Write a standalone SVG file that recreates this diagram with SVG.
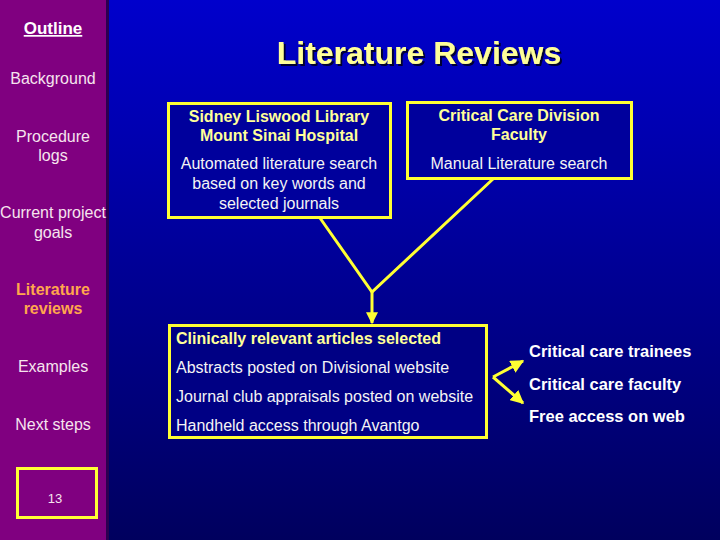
<svg xmlns="http://www.w3.org/2000/svg" width="720" height="540" viewBox="0 0 720 540">
<defs>
<linearGradient id="bg" x1="0" y1="0" x2="0" y2="1">
<stop offset="0" stop-color="#0000cc"/>
<stop offset="1" stop-color="#00005e"/>
</linearGradient>
<filter id="shadow" x="-5%" y="-20%" width="110%" height="140%">
<feDropShadow dx="2" dy="2" stdDeviation="0.5" flood-color="#000033" flood-opacity="1"/>
</filter>
<marker id="ah" viewBox="0 0 10 10" refX="9" refY="5" markerWidth="4" markerHeight="4" orient="auto" markerUnits="strokeWidth">
<path d="M0,0 L10,5 L0,10 z" fill="#ffff33"/>
</marker>
<marker id="ah2" viewBox="0 0 10 10" refX="9" refY="5" markerWidth="4.5" markerHeight="4.5" orient="auto" markerUnits="strokeWidth">
<path d="M0,0 L10,5 L0,10 z" fill="#ffff33"/>
</marker>
</defs>
<style>
text{font-family:"Liberation Sans",Arial,sans-serif;}
.side{font-size:16px;fill:#f6e4ee;text-anchor:middle;}
.box{stroke:#ffff33;stroke-width:3;}
.hd{font-size:16px;font-weight:bold;fill:#ffff99;}
.bd{font-size:16px;fill:#f4f4f4;}
.rt{font-size:16.5px;font-weight:bold;fill:#ffffff;}
.ln{stroke:#ffff33;stroke-width:3;fill:none;}
</style>
<rect x="0" y="0" width="720" height="540" fill="url(#bg)"/>
<g id="sidebar">
<rect x="0" y="0" width="107" height="540" fill="#800080"/>
<rect x="106" y="0" width="3" height="540" fill="#2a0050"/>
<text x="53" y="34" class="side" style="font-weight:bold;font-size:17px;fill:#ffffff;text-decoration:underline">Outline</text>
<text x="53" y="84" class="side">Background</text>
<text x="53" y="142" class="side">Procedure</text>
<text x="53" y="161" class="side">logs</text>
<text x="53" y="218" class="side">Current project</text>
<text x="53" y="238" class="side">goals</text>
<text x="53" y="295" class="side" style="font-weight:bold;fill:#ffa64d">Literature</text>
<text x="53" y="314" class="side" style="font-weight:bold;fill:#ffa64d">reviews</text>
<text x="53" y="372" class="side">Examples</text>
<text x="53" y="430" class="side">Next steps</text>
<rect x="17.5" y="468.5" width="79" height="49" fill="none" class="box"/>
<text x="55" y="503" class="side" style="font-size:13px">13</text>
</g>
<g id="title">
<text x="419" y="64" text-anchor="middle" filter="url(#shadow)" style="font-size:32px;font-weight:bold;fill:#ffff99">Literature Reviews</text>
</g>
<g id="connectors">
<polyline class="ln" points="320,218 372,292 493,179"/>
<line class="ln" x1="372" y1="292" x2="372" y2="323" marker-end="url(#ah)"/>
<line class="ln" x1="493" y1="377" x2="523" y2="361" marker-end="url(#ah2)"/>
<line class="ln" x1="493" y1="377" x2="523" y2="403" marker-end="url(#ah2)"/>
</g>
<g id="library">
<rect x="168.5" y="103.5" width="222" height="114" fill="#00009c" class="box"/>
<text x="279" y="122" text-anchor="middle" class="hd">Sidney Liswood Library</text>
<text x="279" y="141" text-anchor="middle" class="hd">Mount Sinai Hospital</text>
<text x="279" y="169" text-anchor="middle" class="bd">Automated literature search</text>
<text x="279" y="189" text-anchor="middle" class="bd">based on key words and</text>
<text x="279" y="209" text-anchor="middle" class="bd">selected journals</text>
</g>
<g id="faculty">
<rect x="407.5" y="102.5" width="224" height="76" fill="#00009c" class="box"/>
<text x="519" y="121" text-anchor="middle" class="hd">Critical Care Division</text>
<text x="519" y="140" text-anchor="middle" class="hd">Faculty</text>
<text x="519" y="169" text-anchor="middle" class="bd">Manual Literature search</text>
</g>
<g id="articles">
<rect x="169.5" y="325.5" width="317" height="112" fill="#000084" class="box"/>
<text x="176" y="344" class="hd">Clinically relevant articles selected</text>
<text x="176" y="373" class="bd">Abstracts posted on Divisional website</text>
<text x="176" y="402" class="bd">Journal club appraisals posted on website</text>
<text x="176" y="431" class="bd">Handheld access through Avantgo</text>
</g>
<g id="audience">
<text x="529" y="357" class="rt">Critical care trainees</text>
<text x="529" y="390" class="rt">Critical care faculty</text>
<text x="529" y="422" class="rt">Free access on web</text>
</g>
</svg>
